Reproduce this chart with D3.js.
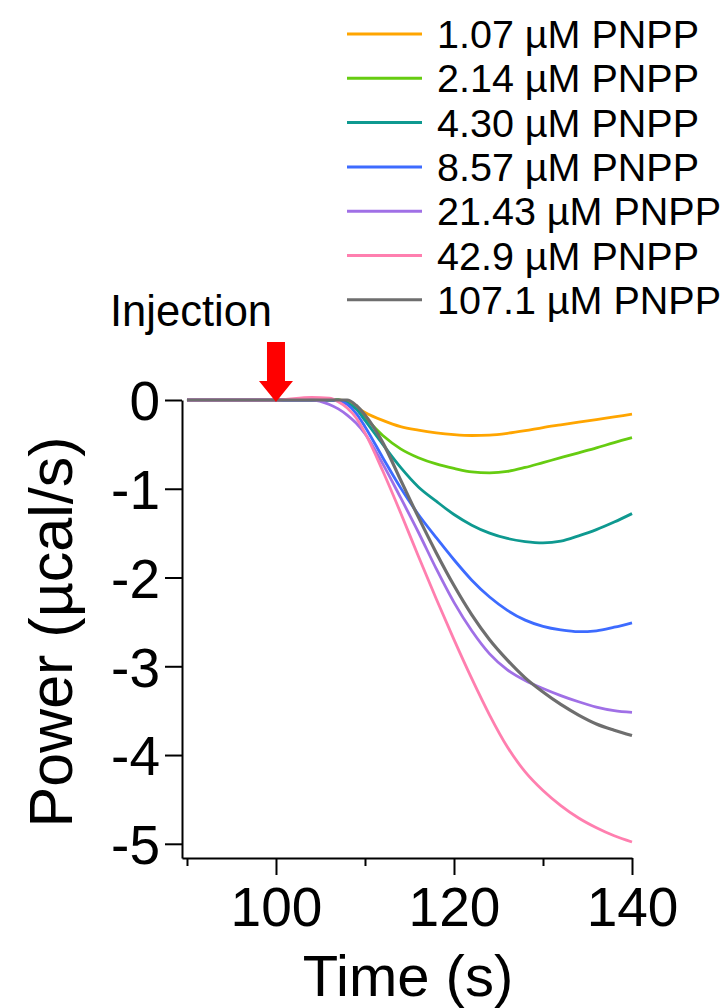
<!DOCTYPE html>
<html>
<head>
<meta charset="utf-8">
<script src="https://cdn.jsdelivr.net/npm/d3@7"></script>
<style>
  html, body { margin: 0; padding: 0; background: #fff; }
  svg { display: block; }
  text { font-family: "Liberation Sans", Arial, sans-serif; fill: #000; }
</style>
</head>
<body>
<svg id="chart" width="728" height="1008"></svg>
<script>
// ---- data ----
const times = [90,100,104,106,107,108,109,110,112,114,116,118,120,122,124,126,128,130,132,134,136,138,140];
const pnpp107 = [0,0,0,0,0,-0.02,-0.08,-0.14,-0.23,-0.30,-0.34,-0.37,-0.39,-0.40,-0.395,-0.375,-0.345,-0.31,-0.28,-0.25,-0.22,-0.19,-0.16];
const pnpp214 = [0,0,0,0,0,-0.03,-0.10,-0.20,-0.40,-0.55,-0.65,-0.72,-0.77,-0.81,-0.82,-0.805,-0.76,-0.705,-0.65,-0.595,-0.54,-0.48,-0.425];
const pnpp430 = [0,0,0,0,0,-0.03,-0.10,-0.23,-0.50,-0.76,-0.98,-1.14,-1.29,-1.41,-1.50,-1.56,-1.595,-1.61,-1.59,-1.53,-1.46,-1.375,-1.28];
const pnpp857 = [0,0,0,0,-0.01,-0.05,-0.15,-0.30,-0.65,-0.99,-1.29,-1.55,-1.80,-2.03,-2.22,-2.37,-2.48,-2.55,-2.59,-2.61,-2.60,-2.56,-2.51];
const pnpp2143 = [0,0,0,-0.05,-0.10,-0.17,-0.26,-0.38,-0.72,-1.10,-1.49,-1.90,-2.28,-2.60,-2.86,-3.04,-3.16,-3.25,-3.33,-3.40,-3.46,-3.50,-3.52];
const pnpp429 = [0,0,0.03,0.02,-0.02,-0.09,-0.20,-0.37,-0.80,-1.27,-1.76,-2.24,-2.70,-3.14,-3.55,-3.91,-4.19,-4.40,-4.57,-4.71,-4.82,-4.91,-4.98];
const pnpp1071 = [0,0,0,0,0,0,-0.06,-0.17,-0.48,-0.90,-1.32,-1.72,-2.09,-2.42,-2.70,-2.93,-3.13,-3.29,-3.43,-3.55,-3.65,-3.72,-3.78];
const seriesLabels = ["1.07 µM PNPP","2.14 µM PNPP","4.30 µM PNPP","8.57 µM PNPP","21.43 µM PNPP","42.9 µM PNPP","107.1 µM PNPP"];
const seriesValues = [pnpp107, pnpp214, pnpp430, pnpp857, pnpp2143, pnpp429, pnpp1071];
const yTicks = [0,-1,-2,-3,-4,-5];
const xMajorTicks = [100,120,140];
const xMinorTicks = [90,110,130];
const injectionTime = 100;

// ---- styles ----
const colors = ["#FFA500","#66CC11","#0E9990","#3D6BFF","#A070E6","#FF7FAF","#6E6E6E"];
const widths = [2.8,2.8,2.8,2.8,2.8,2.8,3.2];

const svg = d3.select("#chart");
const x = d3.scaleLinear().domain([89.44, 140]).range([182, 632]);
const y = d3.scaleLinear().domain([0, -5.16]).range([400, 858]);

// y axis
const yAxis = svg.append("g").attr("transform", "translate(182,0)")
  .call(d3.axisLeft(y).tickValues(yTicks).tickSize(17).tickSizeOuter(0).tickPadding(8)
        .tickFormat(d => String(d)));
yAxis.select(".domain").attr("stroke", "#000").attr("stroke-width", 2);
yAxis.selectAll(".tick line").attr("stroke", "#000").attr("stroke-width", 2);
yAxis.selectAll(".tick text").style("font-family", "Liberation Sans, Arial, sans-serif")
  .style("font-size", "55px").attr("dy", "0.36em").attr("x", -22);

// x axis
const xAxis = svg.append("g").attr("transform", "translate(0,858)")
  .call(d3.axisBottom(x).tickValues(xMajorTicks).tickSize(17).tickSizeOuter(0).tickPadding(12)
        .tickFormat(d => String(d)));
xAxis.select(".domain").attr("stroke", "#000").attr("stroke-width", 2);
xAxis.selectAll(".tick line").attr("stroke", "#000").attr("stroke-width", 2);
xAxis.selectAll(".tick text").style("font-family", "Liberation Sans, Arial, sans-serif")
  .style("font-size", "55px");
const xMinor = svg.append("g").attr("transform", "translate(0,858)")
  .call(d3.axisBottom(x).tickValues(xMinorTicks).tickSize(8).tickSizeOuter(0).tickFormat(""));
xMinor.select(".domain").remove();
xMinor.selectAll(".tick line").attr("stroke", "#000").attr("stroke-width", 2);

// axis titles
svg.append("text").attr("x", 408).attr("y", 996).attr("text-anchor", "middle")
  .style("font-size", "58px").text("Time (s)");
svg.append("text").attr("transform", "translate(72,632) rotate(-90)").attr("text-anchor", "middle")
  .style("font-size", "61px").text("Power (µcal/s)");

// lines
const line = d3.line().x((d, i) => x(times[i])).y(d => y(d)).curve(d3.curveMonotoneX);
seriesValues.forEach((vals, k) => {
  svg.append("path").datum(vals).attr("d", line)
    .attr("fill", "none").attr("stroke", colors[k]).attr("stroke-width", widths[k])
    .attr("stroke-linejoin", "round");
});

// injection arrow
const ax = x(injectionTime);
svg.append("path")
  .attr("d", `M${ax-9},342 H${ax+9} V381 H${ax+17} L${ax},402 L${ax-17},381 H${ax-9} Z`)
  .attr("fill", "#FF0000");
svg.append("text").attr("x", 110).attr("y", 326).style("font-size", "43.5px").text("Injection");

// legend
const leg = svg.append("g");
seriesLabels.forEach((lab, k) => {
  const ly = 34 + k * 44.3;
  leg.append("line").attr("x1", 347).attr("x2", 422).attr("y1", ly).attr("y2", ly)
    .attr("stroke", colors[k]).attr("stroke-width", 3);
  leg.append("text").attr("x", 437).attr("y", ly + 14).style("font-size", "39.5px").text(lab);
});
</script>
</body>
</html>
